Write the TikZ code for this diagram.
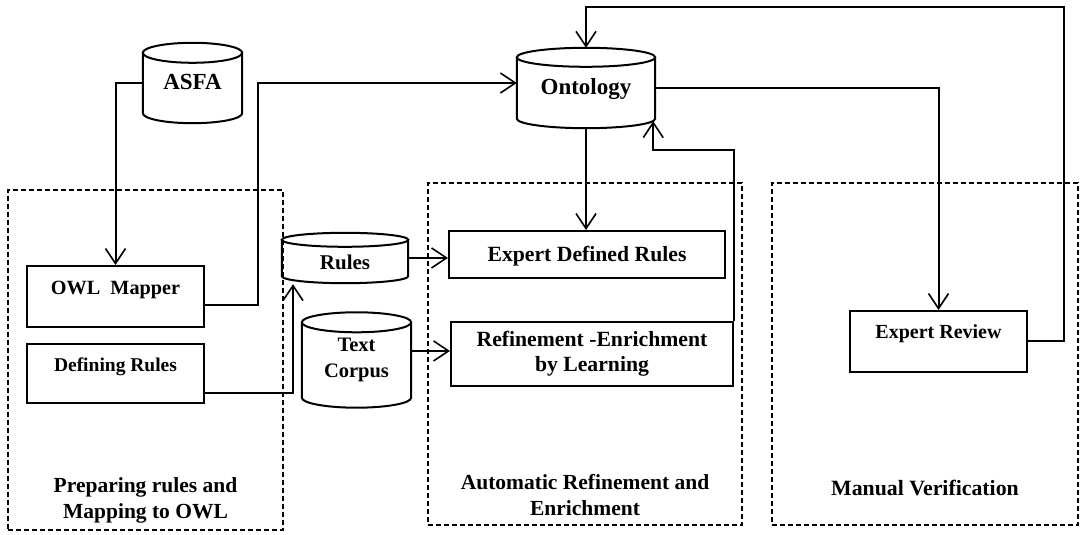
\documentclass[tikz,border=0pt]{standalone}
\usepackage{fontspec}
\setmainfont{Liberation Serif}
\usetikzlibrary{arrows.meta,calc}
\newcommand\drawcyl[2]{%
  \draw[lw] let \p1=(#1.north west), \p2=(#1.south east) in
    (\x1,\y1-#2) -- (\x1,\y2+#2)
    arc[start angle=180,end angle=360,x radius={(\x2-\x1)/2},y radius=#2]
    -- (\x2,\y1-#2)
    ({(\x1+\x2)/2},\y1-#2) ellipse[x radius={(\x2-\x1)/2},y radius=#2];}
\begin{document}
\begin{tikzpicture}[x=1pt,y=1pt,
  lw/.style={line width=2pt},
  arr/.style={lw,-{Straight Barb[length=15pt,width=20pt,line width=1.6pt]}},
  procbox/.style={draw,lw,rectangle,inner sep=0pt,align=center},
  cylbox/.style={rectangle,inner sep=0pt,align=center},
  oneline/.style={text height=17pt,text depth=3pt},
  phase/.style={draw,line width=1.8pt,dash pattern=on 5pt off 3pt,rectangle,inner sep=0pt},
  phaselabel/.style={align=center,font=\fontsize{21.5}{26}\selectfont\bfseries},
  fs/.style={font=\fontsize{#1}{25.5}\selectfont\bfseries}
]
\fill[white] (0,0) rectangle (1088,535);
\useasboundingbox (0,0) rectangle (1088,535);

% phase frames
\node[phase,minimum width=275pt,minimum height=340pt] (prep) at (145.5,175) {};
\node[phase,minimum width=314pt,minimum height=342pt] (auto) at (585,181) {};
\node[phase,minimum width=306pt,minimum height=342pt] (manual) at (925,181) {};

% data stores
\node[cylbox,oneline,fs=23,minimum width=99pt,minimum height=80pt] (asfa) at (192.5,452) {ASFA};
\node[cylbox,oneline,fs=23,minimum width=138pt,minimum height=80pt] (onto) at (586,447) {Ontology};
\node[cylbox,oneline,fs=21,minimum width=126pt,minimum height=50pt,text height=26pt] (rules) at (345,277) {Rules};
\node[cylbox,fs=20.5,minimum width=109pt,minimum height=95pt] (corpus) at (356.5,175) {Text\\Corpus};
\drawcyl{asfa}{10pt}
\drawcyl{onto}{9.5pt}
\drawcyl{rules}{7pt}
\drawcyl{corpus}{10pt}

% process boxes
\node[procbox,oneline,fs=20.2,minimum width=177pt,minimum height=61pt,text depth=20pt] (owl) at (115.5,238.5) {OWL~ Mapper};
\node[procbox,oneline,fs=19.5,minimum width=177pt,minimum height=59pt,text depth=20pt] (def) at (115.5,161.5) {Defining Rules};
\node[procbox,oneline,fs=21.7,minimum width=276pt,minimum height=47pt] (edr) at (587,280.5) {Expert Defined Rules};
\node[procbox,fs=21.7,minimum width=282pt,minimum height=64pt] (ref) at (592,181) {Refinement -Enrichment\\by Learning};
\node[procbox,oneline,fs=20,minimum width=177pt,minimum height=61pt,text depth=22pt] (er) at (938.5,193.5) {Expert Review};

% phase labels
\node[phaselabel] (preplbl) at ([yshift=30pt]prep.south) {Preparing rules and\\Mapping to OWL};
\node[phaselabel] (autolbl) at ([yshift=30.5pt]auto.south) {Automatic Refinement and\\Enrichment};
\node[phaselabel,font=\fontsize{21.8}{26}\selectfont\bfseries] (manlbl) at ([yshift=38pt]manual.south) {Manual Verification};

% connectors
\coordinate (j1) at (258,452);
\coordinate (j2) at (1064,528);
\draw[arr] (asfa.west) -| (owl.north);
\draw[arr] ([yshift=-8.5pt]owl.east) -| (j1) -- (onto.west |- j1);
\draw[arr] (er.east) -| (j2) -| (onto.north);
\draw[arr] (onto.east) -| (er.north);
\draw[arr] (onto.south) -- (onto.south |- edr.north);
\draw[arr] (ref.north east) |- ($(onto.south east)+(-2,-22)$) -- ($(onto.south east)+(-2,7)$);
\draw[arr] (rules.east) -- (rules.east -| edr.west);
\draw[arr] ([yshift=9pt]corpus.east) -- ([yshift=9pt]corpus.east -| ref.west);
\draw[arr] ([yshift=-20pt]def.east) -| ($(rules.south)+(-52,-1)$);
\end{tikzpicture}
\end{document}
